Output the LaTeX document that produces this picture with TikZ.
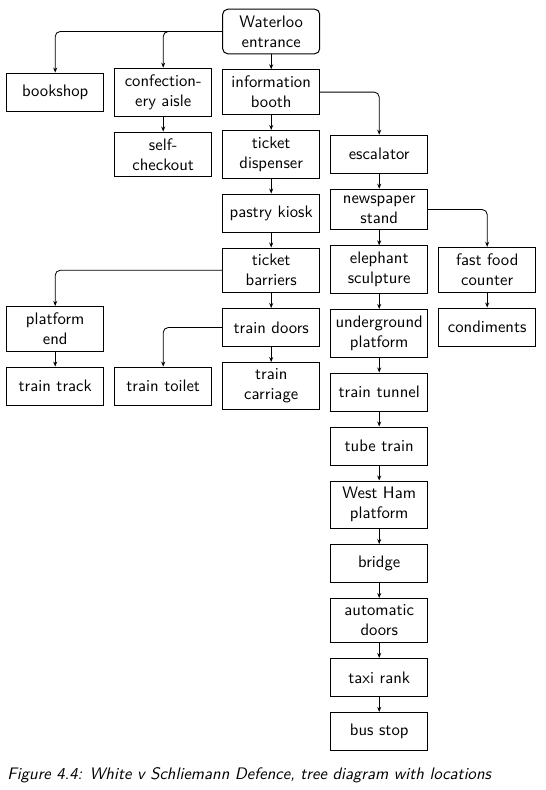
\documentclass[tikz,border=0pt]{standalone}
\usetikzlibrary{arrows.meta,positioning}
\begin{document}
\begin{tikzpicture}[x=0.6pt,y=-0.6pt,
  every node/.style={font=\sffamily},
  box/.style={draw, line width=0.6pt, text width=52.5pt, align=center,
    inner xsep=2.85pt, inner ysep=3.83pt, minimum height=22.8pt},
  rbox/.style={box, rounded corners=3pt},
  arr/.style={-{Stealth[length=3pt,width=2.4pt]}, line width=0.5pt},
  brn/.style={arr, rounded corners=3pt},
  vd/.style={below=9pt of #1},
  node distance=9pt and 6pt]
\useasboundingbox (0,0) rectangle (545,790);
\node[rbox] (W) at (271.2,31.5) {Waterloo\\entrance};
\node[box, below=9pt of W] (info) {information\\booth};
\node[box, left=6pt of info] (conf) {confection-\\ery aisle};
\node[box, left=6pt of conf] (book) {bookshop};
\node[box, below=9pt of conf] (self) {self-\\checkout};
\node[box, below=9pt of info] (disp) {ticket\\dispenser};
\node[box, right=6pt of disp] (esc) {escalator};
\node[box, below=9pt of disp] (pastry) {pastry kiosk};
\node[box, below=9pt of esc] (news) {newspaper\\stand};
\node[box, below=9pt of pastry] (barr) {ticket\\barriers};
\node[box, below=9pt of news] (eleph) {elephant\\sculpture};
\node[box, right=6pt of eleph] (fast) {fast food\\counter};
\node[box, below=9pt of fast] (cond) {condiments};
\node[box, below=9pt of barr] (doors) {train doors};
\node[box, below=9pt of doors] (carr) {train\\carriage};
\node[box, left=6pt of carr] (toilet) {train toilet};
\node[box, left=6pt of toilet] (track) {train track};
\node[box, above=9pt of track] (pend) {platform\\end};
\node[box, below=9pt of eleph] (under) {underground\\platform};
\node[box, below=9pt of under] (tunnel) {train tunnel};
\node[box, below=9pt of tunnel] (tube) {tube train};
\node[box, below=9pt of tube] (wham) {West Ham\\platform};
\node[box, below=9pt of wham] (bridge) {bridge};
\node[box, below=9pt of bridge] (auto) {automatic\\doors};
\node[box, below=9pt of auto] (taxi) {taxi rank};
\node[box, below=9pt of taxi] (bus) {bus stop};
\node[anchor=west, inner sep=0pt, font=\sffamily\slshape] (cap) at (7,775)
  {Figure 4.4: White v Schliemann Defence, tree diagram with locations};
\draw[brn] (W.west) -| (book.north);
\draw[brn] (W.west) -| (conf.north);
\draw[arr] (W) -- (info);
\draw[arr] (conf) -- (self);
\draw[arr] (info) -- (disp);
\draw[brn] (info.east) -| (esc.north);
\draw[arr] (disp) -- (pastry);
\draw[arr] (esc) -- (news);
\draw[arr] (pastry) -- (barr);
\draw[arr] (news) -- (eleph);
\draw[brn] (news.east) -| (fast.north);
\draw[arr] (fast) -- (cond);
\draw[brn] (barr.west) -| (pend.north);
\draw[arr] (barr) -- (doors);
\draw[arr] (pend) -- (track);
\draw[brn] (doors.west) -| (toilet.north);
\draw[arr] (doors) -- (carr);
\draw[arr] (eleph) -- (under);
\draw[arr] (under) -- (tunnel);
\draw[arr] (tunnel) -- (tube);
\draw[arr] (tube) -- (wham);
\draw[arr] (wham) -- (bridge);
\draw[arr] (bridge) -- (auto);
\draw[arr] (auto) -- (taxi);
\draw[arr] (taxi) -- (bus);
\end{tikzpicture}
\end{document}
